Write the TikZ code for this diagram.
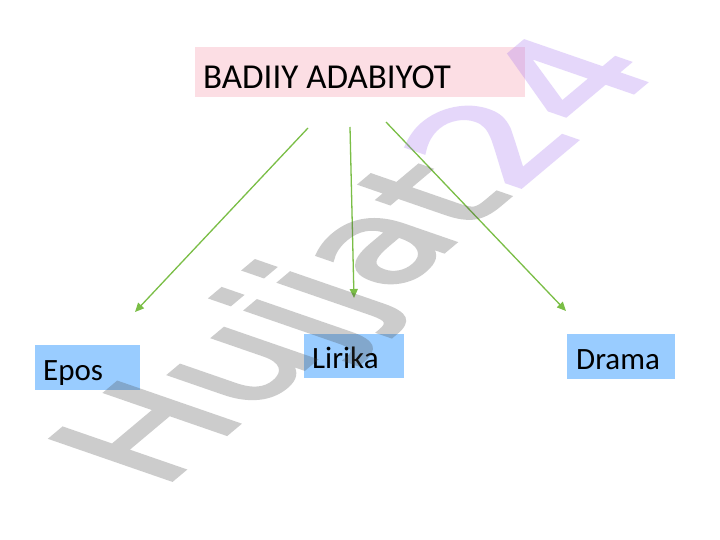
\documentclass[tikz,border=0pt]{standalone}
\usepackage{fontspec}
\setmainfont{Carlito}
\newfontfamily\markfont{DejaVu Sans}[BoldFont={DejaVu Sans}, BoldFeatures={FakeBold=2.5}]
\usetikzlibrary{arrows.meta, positioning}

\definecolor{titlepink}{RGB}{252,222,228}
\definecolor{boxblue}{RGB}{153,204,255}
\definecolor{arrowgreen}{RGB}{122,190,70}
\definecolor{markgray}{RGB}{70,70,70}
\definecolor{markpurple}{RGB}{160,110,240}

\tikzstyle{titlebox} = [rectangle, fill=titlepink, anchor=north west, inner xsep=8pt, inner ysep=0pt, text height=41pt, text depth=9pt, font=\fontsize{35}{35}\selectfont]
\tikzstyle{labelbox} = [rectangle, fill=boxblue, anchor=north west, inner xsep=8pt, inner ysep=0pt, text height=35pt, text depth=10pt, font=\fontsize{31}{31}\selectfont]
\tikzstyle{arrow} = [line width=1.3pt, draw=arrowgreen, -{Triangle[length=9pt,width=8pt]}]
\tikzstyle{watermark} = [anchor=base west, inner sep=0pt, transform shape, opacity=1, text opacity=1, font=\markfont\bfseries\fontsize{100}{100}\selectfont]

\begin{document}
\begin{tikzpicture}[x=1pt,y=-1pt]
\useasboundingbox[fill=white] (0,0) rectangle (720,540);

\node (badiiy) [titlebox] at (195,47) {\makebox[314pt][l]{BADIIY ADABIYOT}};

\node (epos) [labelbox] at (35,345) {\makebox[89pt][l]{Epos}};
\node (lirika) [labelbox, text height=34pt] at (304,334) {\makebox[84pt][l]{Lirika}};
\node (drama) [labelbox, inner xsep=9pt] at (567,334) {\makebox[90pt][l]{Drama}};

% arrow ends stop short of the boxes
\coordinate (fromepos) at (308,128);
\coordinate (toepos) at (135,312);
\coordinate (fromlirika) at (350,127);
\coordinate (tolirika) at (354,298);
\coordinate (fromdrama) at (386,122);
\coordinate (todrama) at (566,311);

\draw [arrow] (fromepos) -- (toepos);
\draw [arrow] (fromlirika) -- (tolirika);
\draw [arrow] (fromdrama) -- (todrama);

% watermark
\begin{scope}[transparency group, opacity=.27]
\begin{scope}[shift={(160,490)}, cm={1.195,1.003,-1.654,0.572,(0,0)}]
\node (mark) [watermark] at (0,0) {\textcolor{markgray}{Hujjat}\textcolor{markpurple}{24}};
\end{scope}
\end{scope}
\end{tikzpicture}
\end{document}
